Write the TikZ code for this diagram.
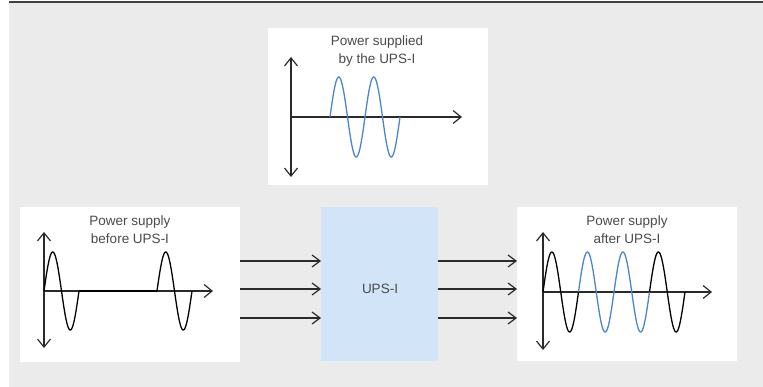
\documentclass[tikz,border=0pt]{standalone}
\usepackage{fontspec}
\setmainfont{Liberation Sans}
\usetikzlibrary{arrows.meta}
\definecolor{bg}{HTML}{EBEBEB}
\definecolor{upsblue}{HTML}{D2E5F8}
\definecolor{wblue}{HTML}{4A86CC}
\definecolor{txt}{HTML}{4A4A4A}
\definecolor{ax}{HTML}{2A2A2A}
\begin{document}
\begin{tikzpicture}[x=1pt,y=-1pt,
  panel/.style={fill=white, draw=none, inner sep=0pt, anchor=north west},
  title/.style={align=center, font=\fontsize{13.5}{17.5}\selectfont, text=txt, inner sep=0pt},
  axis/.style={draw=ax, line width=1.2pt},
  arr/.style={draw=ax, line width=1.2pt, -{Straight Barb[length=8pt,width=12pt,line width=1.2pt]}},
  wave/.style={line width=1.3pt},
]
\useasboundingbox (0,0) rectangle (763,387);
% background
\fill[bg] (9,2) rectangle (763,387);
\draw[draw=ax!90, line width=2pt] (9,2) -- (763,2);

% panels
\node[panel, minimum width=220pt, minimum height=157pt] (tp) at (268,28) {};
\node[panel, minimum width=220pt, minimum height=155pt] (lp) at (20,207) {};
\node[panel, minimum width=220pt, minimum height=154pt] (rp) at (517,207) {};
\node[panel, fill=upsblue, minimum width=117pt, minimum height=154pt] (ups) at (321,207) {};
\node[title] (upsl) at (380,289) {UPS-I};

% titles
\node[title] (tpt) at (377,51) {Power supplied\\by the UPS-I};
\node[title] (lpt) at (130,229.5) {Power supply\\before UPS-I};
\node[title] (rpt) at (627,229.5) {Power supply\\after UPS-I};

% connectors
\foreach \yy in {261,289,318}{
  \draw[arr] (lp.east |- 0,\yy) -- (ups.west |- 0,\yy);
  \draw[arr] (ups.east |- 0,\yy) -- (rp.west |- 0,\yy);
}

% top panel plot
\draw[axis, {Straight Barb[length=8pt,width=13pt,line width=1.2pt]}-{Straight Barb[length=8pt,width=13pt,line width=1.2pt]}] (291,57) -- (291,177);
\draw[axis, -{Straight Barb[length=8pt,width=13pt,line width=1.2pt]}] (291,117) -- (462,117);
\draw[wave, wblue] plot[domain=0:70, samples=120, smooth] ({330+\x},{117-40*sin(\x/35*360)});

% left panel plot
\draw[axis, {Straight Barb[length=8pt,width=13pt,line width=1.2pt]}-{Straight Barb[length=8pt,width=13pt,line width=1.2pt]}] (44,232) -- (44,348);
\draw[axis, -{Straight Barb[length=8pt,width=13pt,line width=1.2pt]}] (44,291) -- (213,291);
\draw[wave, black] plot[domain=0:35, samples=60, smooth] ({44+\x},{291-39*sin(\x/35*360)});
\draw[black, line width=2pt] (79,291) -- (157,291);
\draw[wave, black] plot[domain=0:35, samples=60, smooth] ({157+\x},{291-39*sin(\x/35*360)});

% right panel plot
\draw[axis, {Straight Barb[length=8pt,width=13pt,line width=1.2pt]}-{Straight Barb[length=8pt,width=13pt,line width=1.2pt]}] (543,232) -- (543,350);
\draw[axis, -{Straight Barb[length=8pt,width=13pt,line width=1.2pt]}] (543,292) -- (712,292);
\draw[wave, black] plot[domain=0:35.5, samples=60, smooth] ({543+\x},{292-40*sin(\x/35.5*360)});
\draw[wave, wblue] plot[domain=0:71, samples=120, smooth] ({578.5+\x},{292-40*sin(\x/35.5*360)});
\draw[wave, black] plot[domain=0:35.5, samples=60, smooth] ({649.5+\x},{292-40*sin(\x/35.5*360)});
\end{tikzpicture}
\end{document}
